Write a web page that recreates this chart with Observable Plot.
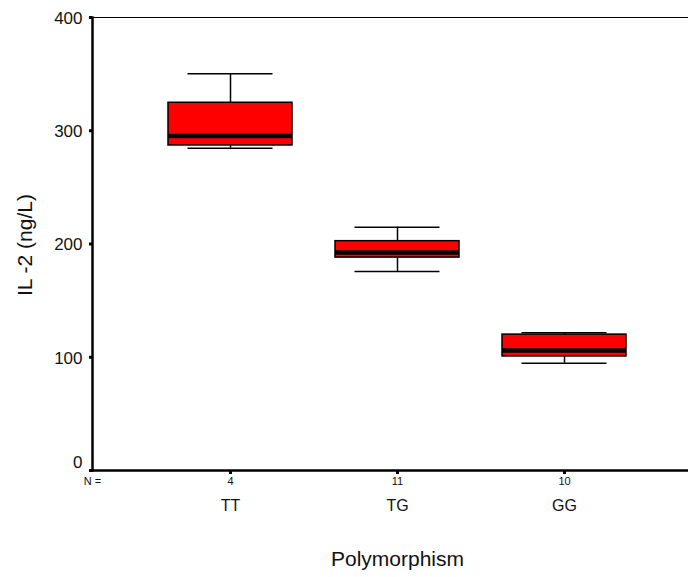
<!DOCTYPE html>
<html>
<head>
<meta charset="utf-8">
<script src="https://cdn.jsdelivr.net/npm/d3@7"></script>
<script src="https://cdn.jsdelivr.net/npm/@observablehq/plot@0.6"></script>
<style>
  html, body { margin: 0; padding: 0; background: #fff; }
  svg { display: block; }
</style>
</head>
<body>
<div id="chart"></div>
<script>
const categories = ["TT", "TG", "GG"];
const nValues = [4, 11, 10];
const minVals = [284.6, 175.7, 94.7];
const q1Vals = [287, 188, 100.7];
const medianVals = [295.4, 192.5, 106];
const q3Vals = [324.7, 202.5, 120];
const maxVals = [350.3, 214.8, 121.6];
const yTicks = [0, 100, 200, 300, 400];

const rows = categories.map((c, i) => ({
  cat: c, n: nValues[i], min: minVals[i], q1: q1Vals[i],
  med: medianVals[i], q3: q3Vals[i], max: maxVals[i]
}));

const font = "'Liberation Sans', Arial, sans-serif";

const chart = Plot.plot({
  width: 688,
  height: 577,
  marginTop: 17,
  marginBottom: 107,
  marginLeft: 92,
  marginRight: 0,
  style: { fontFamily: font, background: "#fff", color: "#000" },
  x: { type: "band", domain: categories, range: [124.75, 669.75], padding: 0.2586, axis: null },
  y: { domain: [0, 400], axis: null },
  marks: [
    // axis lines
    Plot.ruleY([400], { stroke: "#000", strokeWidth: 1 }),
    Plot.frame({ anchor: "left", stroke: "#000", strokeWidth: 2.5 }),
    Plot.ruleY([0], { stroke: "#000", strokeWidth: 2.5 }),
    // y ticks
    Plot.axisY({ ticks: yTicks, tickSize: 3, strokeWidth: 3, tickFormat: () => "", label: null }),
    Plot.text(yTicks.filter(v => v !== 0), { y: d => d, text: d => String(d), frameAnchor: "left", dx: -10, dy: 1, textAnchor: "end", fontSize: 17, fill: "#111" }),
    Plot.text(yTicks.filter(v => v === 0), { y: d => d, text: d => String(d), frameAnchor: "left", dx: -10, dy: -8, textAnchor: "end", fontSize: 17, fill: "#111" }),
    // x ticks
    Plot.axisX({ tickSize: 4, strokeWidth: 3, tickFormat: () => "", label: null }),
    Plot.text(rows, { x: "cat", text: d => String(d.n), frameAnchor: "bottom", dy: 14, fontSize: 11, fill: "#111" }),
    Plot.text(["N ="], { text: d => d, frameAnchor: "bottom-left", textAnchor: "middle", dy: 14, fontSize: 11, fill: "#111" }),
    Plot.text(rows, { x: "cat", text: "cat", frameAnchor: "bottom", dy: 40, fontSize: 16, fill: "#111" }),
    // axis titles
    Plot.text(["Polymorphism"], { text: d => d, frameAnchor: "bottom", dy: 95, dx: 7, fontSize: 21, fill: "#111" }),
    Plot.text(["IL -2 (ng/L)"], { text: d => d, frameAnchor: "left", textAnchor: "middle", dx: -67, dy: 1, rotate: -90, fontSize: 21, fill: "#111" }),
    // whiskers
    Plot.ruleX(rows, { x: "cat", y1: "q3", y2: "max", stroke: "#000", strokeWidth: 1.5 }),
    Plot.ruleX(rows, { x: "cat", y1: "min", y2: "q1", stroke: "#000", strokeWidth: 1.5 }),
    Plot.tickY(rows, { x: "cat", y: "max", stroke: "#000", strokeWidth: 1.5, inset: 19.5 }),
    Plot.tickY(rows, { x: "cat", y: "min", stroke: "#000", strokeWidth: 1.5, inset: 19.5 }),
    // boxes
    Plot.barY(rows, { x: "cat", y1: "q1", y2: "q3", fill: "#ff0000", stroke: "#000", strokeWidth: 1.5 }),
    Plot.tickY(rows, { x: "cat", y: "med", stroke: "#000", strokeWidth: 4.5 })
  ]
});

document.getElementById("chart").appendChild(chart);
</script>
</body>
</html>
